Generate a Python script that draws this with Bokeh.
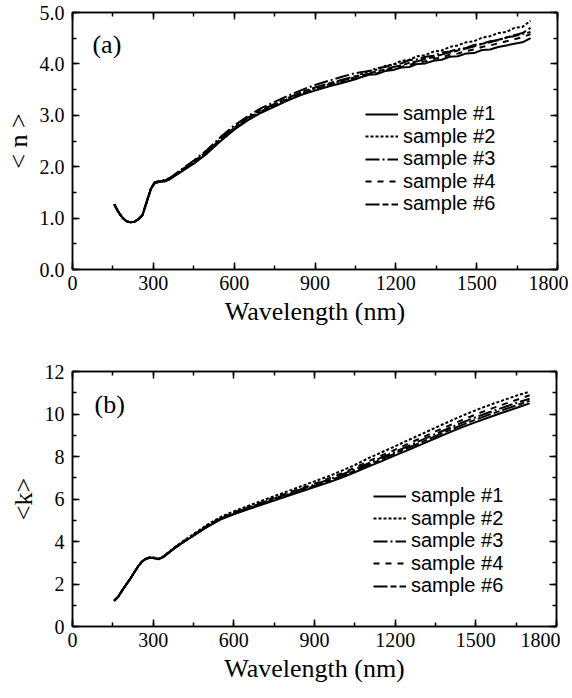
from bokeh.plotting import figure
from bokeh.models import (Range1d, LinearAxis, SingleIntervalTicker, Legend, LegendItem,
                          Label, NumeralTickFormatter)
from bokeh.layouts import column
from bokeh.embed import file_html
from bokeh.resources import INLINE

# ---------------- data: panel (a) <n> ----------------
wl_n = [155, 170, 185, 200, 215, 230, 245, 260, 275, 290, 305, 320, 340, 360, 380, 400,
        450, 500, 550, 600, 650, 700, 750, 800, 850, 900, 950, 1000, 1050,
        1070, 1100, 1130, 1160, 1190, 1220, 1250, 1280, 1310, 1340, 1370, 1400, 1430,
        1460, 1490, 1520, 1550, 1580, 1610, 1640, 1670, 1700]

n_s1 = [1.27, 1.12, 1.01, 0.94, 0.92, 0.93, 0.98, 1.06, 1.30, 1.55, 1.68, 1.70, 1.71, 1.75, 1.82, 1.89,
        2.06, 2.26, 2.50, 2.72, 2.90, 3.05, 3.17, 3.29, 3.40, 3.48, 3.56, 3.63, 3.70,
        3.74, 3.79, 3.80, 3.86, 3.88, 3.93, 3.94, 4.00, 4.01, 4.06, 4.08, 4.14, 4.15,
        4.20, 4.21, 4.27, 4.28, 4.33, 4.36, 4.39, 4.42, 4.50]
n_s2 = [1.27, 1.12, 1.01, 0.94, 0.92, 0.93, 0.98, 1.06, 1.31, 1.56, 1.69, 1.71, 1.72, 1.77, 1.84, 1.91,
        2.09, 2.29, 2.53, 2.75, 2.93, 3.08, 3.20, 3.32, 3.43, 3.52, 3.60, 3.67, 3.74,
        3.80, 3.86, 3.89, 3.96, 3.99, 4.06, 4.08, 4.15, 4.17, 4.24, 4.26, 4.33, 4.36,
        4.42, 4.44, 4.51, 4.54, 4.60, 4.62, 4.70, 4.72, 4.84]
n_s3 = [1.27, 1.12, 1.01, 0.94, 0.92, 0.93, 0.98, 1.07, 1.32, 1.57, 1.70, 1.72, 1.74, 1.78, 1.85, 1.93,
        2.12, 2.33, 2.58, 2.80, 2.98, 3.14, 3.26, 3.38, 3.49, 3.59, 3.67, 3.75, 3.82,
        3.84, 3.86, 3.92, 3.94, 3.99, 4.01, 4.07, 4.09, 4.14, 4.16, 4.22, 4.24, 4.29,
        4.31, 4.37, 4.39, 4.44, 4.46, 4.52, 4.54, 4.58, 4.62]
n_s4 = [1.27, 1.12, 1.01, 0.94, 0.92, 0.93, 0.98, 1.06, 1.30, 1.55, 1.68, 1.70, 1.71, 1.76, 1.83, 1.90,
        2.07, 2.27, 2.51, 2.73, 2.91, 3.06, 3.18, 3.30, 3.41, 3.50, 3.58, 3.65, 3.72,
        3.75, 3.80, 3.82, 3.87, 3.91, 3.94, 3.98, 4.02, 4.05, 4.10, 4.12, 4.18, 4.20,
        4.25, 4.28, 4.33, 4.36, 4.40, 4.44, 4.48, 4.52, 4.58]
n_s6 = [1.27, 1.12, 1.01, 0.94, 0.92, 0.93, 0.98, 1.06, 1.31, 1.56, 1.69, 1.71, 1.73, 1.77, 1.84, 1.92,
        2.10, 2.30, 2.54, 2.76, 2.95, 3.10, 3.22, 3.34, 3.45, 3.54, 3.62, 3.69, 3.76,
        3.78, 3.81, 3.86, 3.89, 3.94, 3.97, 4.02, 4.05, 4.10, 4.13, 4.18, 4.22, 4.26,
        4.30, 4.34, 4.39, 4.42, 4.47, 4.51, 4.56, 4.60, 4.70]

# ---------------- data: panel (b) <k> ----------------
wl_k = [155, 170, 185, 200, 215, 230, 245, 260, 275, 290, 305, 320, 340, 360, 380, 400,
        450, 500, 550, 600, 650, 700, 750, 800, 850, 900, 950, 1000,
        1050, 1100, 1150, 1200, 1250, 1300, 1350, 1400, 1450, 1500, 1550, 1600, 1650, 1700]

k_s1 = [1.21, 1.40, 1.70, 1.98, 2.25, 2.55, 2.84, 3.07, 3.19, 3.24, 3.21, 3.16, 3.28, 3.48, 3.68, 3.86,
        4.27, 4.68, 5.03, 5.28, 5.50, 5.72, 5.93, 6.14, 6.35, 6.56, 6.77, 7.00,
        7.26, 7.52, 7.78, 8.05, 8.31, 8.58, 8.86, 9.12, 9.38, 9.62, 9.85, 10.07, 10.28, 10.50]
k_s2 = [1.21, 1.40, 1.70, 1.98, 2.25, 2.55, 2.86, 3.09, 3.21, 3.27, 3.24, 3.19, 3.32, 3.53, 3.73, 3.92,
        4.35, 4.78, 5.15, 5.42, 5.66, 5.90, 6.13, 6.36, 6.60, 6.83, 7.06, 7.32,
        7.60, 7.92, 8.20, 8.48, 8.78, 9.06, 9.36, 9.64, 9.92, 10.18, 10.42, 10.64, 10.86, 11.05]
k_s3 = [1.21, 1.40, 1.70, 1.98, 2.25, 2.55, 2.85, 3.08, 3.20, 3.25, 3.22, 3.17, 3.30, 3.50, 3.70, 3.88,
        4.30, 4.72, 5.08, 5.34, 5.57, 5.80, 6.02, 6.24, 6.46, 6.68, 6.90, 7.14,
        7.40, 7.68, 7.96, 8.22, 8.50, 8.78, 9.06, 9.33, 9.60, 9.85, 10.08, 10.30, 10.52, 10.72]
k_s4 = [1.21, 1.40, 1.70, 1.98, 2.25, 2.55, 2.85, 3.08, 3.20, 3.25, 3.23, 3.18, 3.31, 3.51, 3.71, 3.90,
        4.32, 4.74, 5.10, 5.37, 5.60, 5.83, 6.06, 6.28, 6.50, 6.72, 6.95, 7.20,
        7.47, 7.77, 8.05, 8.32, 8.61, 8.89, 9.18, 9.45, 9.72, 9.98, 10.22, 10.44, 10.66, 10.88]
k_s6 = [1.21, 1.40, 1.70, 1.98, 2.25, 2.55, 2.84, 3.07, 3.19, 3.24, 3.21, 3.17, 3.29, 3.49, 3.69, 3.87,
        4.28, 4.70, 5.05, 5.31, 5.53, 5.76, 5.97, 6.19, 6.40, 6.62, 6.84, 7.07,
        7.33, 7.60, 7.87, 8.14, 8.41, 8.68, 8.96, 9.23, 9.49, 9.74, 9.97, 10.19, 10.40, 10.62]

sample_names = ["sample #1", "sample #2", "sample #3", "sample #4", "sample #6"]
x_ticks_interval = 300

SERIF = "Liberation Serif"
SANS = "Liberation Sans"

dashes = ["solid", "3 2", "14 3 2 3", "6 6", "14 3 6 3"]
ROW_H = 22  # legend row box height in px (layout only)


def style_axis(ax, show_labels=True):
    ax.axis_line_color = "black"
    ax.axis_line_width = 1.5
    ax.major_tick_in = 7
    ax.major_tick_out = 0
    ax.minor_tick_in = 4
    ax.minor_tick_out = 0
    ax.major_tick_line_color = "black"
    ax.minor_tick_line_color = "black"
    ax.major_tick_line_width = 1.5
    ax.minor_tick_line_width = 1.5
    if show_labels:
        ax.major_label_text_font = SERIF
        ax.major_label_text_font_size = "20px"
        ax.major_label_text_color = "black"
        ax.axis_label_text_font = SERIF
        ax.axis_label_text_font_size = "26px"
        ax.axis_label_text_font_style = "normal"
        ax.axis_label_text_color = "black"
    else:
        ax.major_label_text_font_size = "2px"
        ax.major_label_text_color = None
        ax.major_label_standoff = 0


def make_panel(wl, series, y_max, y_interval, y_fmt, y_label, tag, tag_xy,
               border, frame, legend_x, legend_rows):
    bl, br, bt, bb = border
    fw, fh = frame
    p = figure(output_backend="svg", toolbar_location=None,
               x_range=Range1d(0, 1800), y_range=Range1d(0, y_max),
               frame_width=fw, frame_height=fh,
               min_border_left=bl, min_border_right=br,
               min_border_top=bt, min_border_bottom=bb)
    p.xgrid.visible = False
    p.ygrid.visible = False
    p.outline_line_color = "black"
    p.outline_line_width = 1.5
    p.background_fill_color = "white"
    p.border_fill_color = "white"

    xt = SingleIntervalTicker(interval=x_ticks_interval, num_minor_ticks=2)
    yt = SingleIntervalTicker(interval=y_interval, num_minor_ticks=2)
    p.xaxis.ticker = xt
    p.yaxis.ticker = yt
    p.yaxis.formatter = NumeralTickFormatter(format=y_fmt)
    for ax in p.xaxis:
        style_axis(ax)
        ax.major_label_standoff = 6
        ax.axis_label_standoff = 4
    for ax in p.yaxis:
        style_axis(ax)
        ax.major_label_standoff = 8
        ax.axis_label_standoff = 4
    p.xaxis.axis_label = "Wavelength (nm)"
    p.yaxis.axis_label = y_label

    top = LinearAxis(ticker=xt)
    style_axis(top, show_labels=False)
    right = LinearAxis(ticker=yt)
    style_axis(right, show_labels=False)
    p.add_layout(top, "above")
    p.add_layout(right, "right")

    for name, ys, dash, row_c in zip(sample_names, series, dashes, legend_rows):
        r = p.line(wl, ys, line_color="black", line_width=2, line_dash=dash)
        leg = Legend(items=[LegendItem(label=name, renderers=[r])],
                     location=(legend_x, row_c - ROW_H / 2),
                     padding=0, margin=0, spacing=0,
                     label_height=ROW_H, glyph_height=ROW_H, glyph_width=33,
                     label_standoff=5, border_line_color=None, background_fill_alpha=0,
                     label_text_font=SANS, label_text_font_size="20px",
                     label_text_color="black")
        p.add_layout(leg)

    p.add_layout(Label(x=tag_xy[0], y=tag_xy[1], text=tag, text_font=SERIF,
                       text_font_size="26px", text_baseline="middle",
                       text_color="black"))
    return p


pa = make_panel(wl_n, [n_s1, n_s2, n_s3, n_s4, n_s6], 5.0, 1.0, "0.0", "< n >", "(a)",
                (74, 4.38), (60, 11, 12, 68), (485, 257), 293,
                [155, 132.5, 110, 87.5, 65])
pb = make_panel(wl_k, [k_s1, k_s2, k_s3, k_s4, k_s6], 12, 2, "0", "<k>", "(b)",
                (82, 10.45), (63, 9, 34, 56), (484, 255), 301,
                [130, 107.5, 85, 62.5, 40])

layout = column(pa, pb, spacing=0)
open("out.html", "w").write(file_html(layout, INLINE))
